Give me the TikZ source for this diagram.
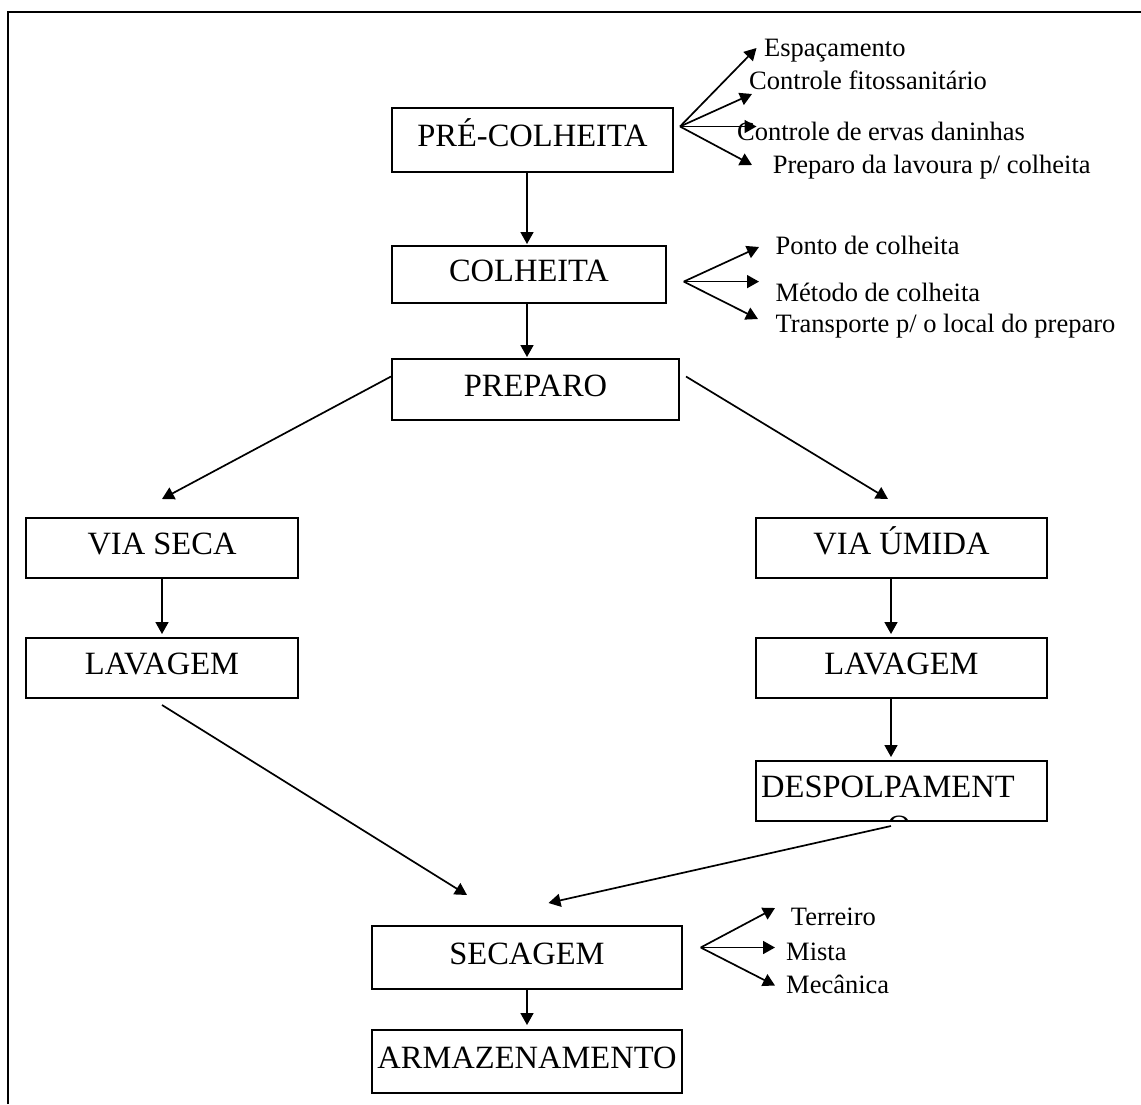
\documentclass[tikz,border=0pt]{standalone}
\usepackage{fontspec}
\setmainfont{Liberation Serif}
\usetikzlibrary{arrows.meta}
\begin{document}
\begin{tikzpicture}[x=1pt,y=-1pt,
  box/.style={draw, line width=2pt, inner sep=0pt, font=\fontsize{32.5}{39}\selectfont, text height=21.5pt, text depth=8pt},
  conn/.style={line width=1.7pt, -{Triangle[length=12pt,width=13pt]}},
  lab/.style={inner sep=0pt, anchor=base west, font=\fontsize{26.5}{32}\selectfont},
  big/.style={inner sep=0pt, font=\fontsize{32.5}{39}\selectfont}]
\useasboundingbox (0,0) rectangle (1141,1104);
\draw[line width=2.4pt] (8,1104) -- (8,12) -- (1141,12);

% boxes
\node[box, minimum width=281pt, minimum height=64pt] (pre) at (532.5,140) {PRÉ-COLHEITA};
\node[box, minimum width=274pt, minimum height=57pt] (col) at (529,274.5) {COLHEITA};
\node[box, minimum width=287pt, minimum height=61pt] (prep) at (535.5,389.5) {PREPARO};
\node[box, minimum width=272pt, minimum height=60pt] (vseca) at (162,548) {VIA SECA};
\node[box, minimum width=272pt, minimum height=60pt] (lavL) at (162,668) {LAVAGEM};
\node[box, minimum width=291pt, minimum height=60pt] (vumida) at (901.5,548) {VIA ÚMIDA};
\node[box, minimum width=291pt, minimum height=60pt] (lavR) at (901.5,668) {LAVAGEM};
\node[draw, line width=2pt, inner sep=0pt, minimum width=291pt, minimum height=60pt] (desp) at (901.5,791) {};
\node[big, anchor=base west] (despt) at (761,797) {DESPOLPAMENT};
\begin{scope}
  \clip (757,762) rectangle (1046,820);
  \node[big, anchor=base] (despo) at (899,837) {O};
\end{scope}
\node[box, minimum width=310pt, minimum height=63pt] (sec) at (527,957.5) {SECAGEM};
\node[box, minimum width=310pt, minimum height=63pt] (arm) at (527,1061.5) {ARMAZENAMENTO};

% main flow
\draw[conn, shorten >=1pt] ([xshift=-5.5pt]pre.south) -- ([xshift=-2pt]col.north);
\draw[conn, shorten >=1pt] ([xshift=-2pt]col.south) -- ([xshift=-8.5pt]prep.north);
\draw[conn] ([yshift=13pt]prep.west) -- ([yshift=18pt]vseca.north);
\draw[conn] ([xshift=6pt,yshift=13pt]prep.east) -- ([xshift=-13.5pt,yshift=18pt]vumida.north);
\draw[conn, shorten >=3pt] (vseca.south) -- (lavL.north);
\draw[conn, shorten >=3pt] ([xshift=-10.5pt]vumida.south) -- ([xshift=-10.5pt]lavR.north);
\draw[conn, shorten >=3pt] ([xshift=-10.5pt]lavR.south) -- ([xshift=-10.5pt]desp.north);
\draw[conn] ([yshift=-6pt]lavL.south) -- ([xshift=-60pt,yshift=30pt]sec.north);
\draw[conn] ([xshift=-10.5pt,yshift=-4pt]desp.south) -- ([xshift=21.5pt,yshift=22pt]sec.north);
\draw[conn, shorten >=4pt] (sec.south) -- (arm.north);

% side labels: pre-colheita
\coordinate (preF) at (680,126.5);
\coordinate (pA) at (756.5,48);
\coordinate (pB) at (752,94);
\coordinate (pC) at (756.5,126.5);
\coordinate (pD) at (752,165);
\node[lab] (esp) at (764,56) {Espaçamento};
\node[lab] (fito) at (749,89) {Controle fitossanitário};
\node[lab] (ervas) at (737,140) {Controle de ervas daninhas};
\node[lab] (prepl) at (772.6,173) {Preparo da lavoura p/ colheita};
\foreach \t in {pA,pB,pC,pD} \draw[conn] (preF) -- (\t);

% side labels: colheita
\coordinate (colF) at (683.7,281.6);
\coordinate (cA) at (759,247);
\coordinate (cB) at (759,281.6);
\coordinate (cC) at (758,319);
\node[lab] (ponto) at (775.4,254) {Ponto de colheita};
\node[lab] (metodo) at (775.4,301) {Método de colheita};
\node[lab] (transp) at (775.4,332) {Transporte p/ o local do preparo};
\foreach \t in {cA,cB,cC} \draw[conn] (colF) -- (\t);

% side labels: secagem
\coordinate (secF) at (700.7,947.5);
\coordinate (sA) at (775,908);
\coordinate (sB) at (775,947.5);
\coordinate (sC) at (775,985.5);
\node[lab] (terr) at (790.7,925) {Terreiro};
\node[lab] (mista) at (786,960) {Mista};
\node[lab] (mec) at (786,993) {Mecânica};
\foreach \t in {sA,sB,sC} \draw[conn] (secF) -- (\t);
\end{tikzpicture}
\end{document}
